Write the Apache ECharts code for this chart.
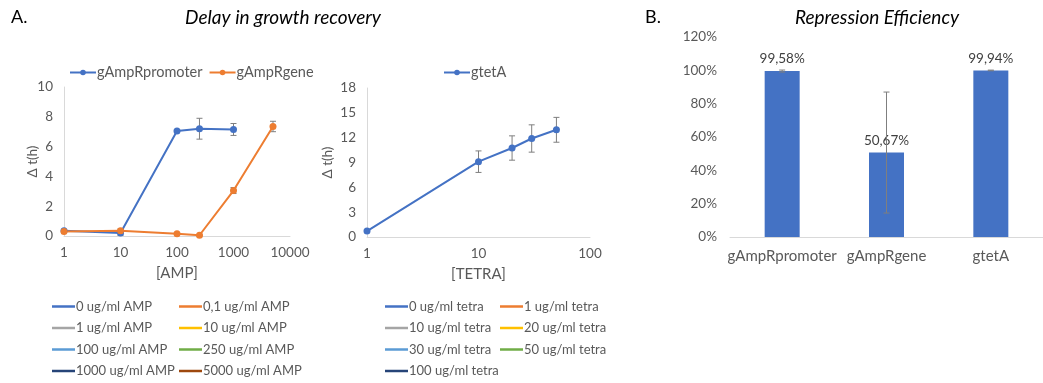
<!DOCTYPE html>
<html>
<head>
<meta charset="utf-8">
<script src="https://cdn.jsdelivr.net/npm/echarts@6/dist/echarts.min.js"></script>
<style>
  html, body { margin: 0; padding: 0; background: #fff; }
  #myChart { width: 1043px; height: 383px; }
</style>
</head>
<body>
<div id="myChart"></div>
<script>
// data
var ampDose = [1, 10, 100, 250, 1000, 5000];
var promoterDelay = [0.35, 0.2, 7.05, 7.2, 7.15, null];
var promoterErr = [0.05, 0.15, 0.1, 0.7, 0.4, null];
var geneDelay = [0.3, 0.35, 0.15, 0.05, 3.05, 7.35];
var geneErr = [0.05, 0.12, 0.05, 0.04, 0.2, 0.35];

var tetDose = [1, 10, 20, 30, 50];
var tetDelay = [0.72, 9.1, 10.75, 11.9, 12.95];
var tetErr = [0.1, 1.3, 1.47, 1.65, 1.5];

var guides = ['gAmpRpromoter', 'gAmpRgene', 'gtetA'];
var efficiency = [99.58, 50.67, 99.94];
var efficiencyErr = [0.6, 36.3, 0.2];
var efficiencyText = ['99,58%', '50,67%', '99,94%'];

var ampLegendA = ['0 ug/ml AMP', '1 ug/ml AMP', '100 ug/ml AMP', '1000 ug/ml AMP'];
var ampLegendB = ['0,1 ug/ml AMP', '10 ug/ml AMP', '250 ug/ml AMP', '5000 ug/ml AMP'];
var tetLegendA = ['0 ug/ml tetra', '10 ug/ml tetra', '30 ug/ml tetra', '100 ug/ml tetra'];
var tetLegendB = ['1 ug/ml tetra', '20 ug/ml tetra', '50 ug/ml tetra'];
var ampColors = ['#4472C4', '#ED7D31', '#A5A5A5', '#FFC000', '#5B9BD5', '#70AD47', '#264478', '#9E480E'];
var tetColors = ['#4472C4', '#ED7D31', '#A5A5A5', '#FFC000', '#5B9BD5', '#70AD47', '#264478'];

var FONT = 'Lato';
var GREY = '#595959';
var myChart = echarts.init(document.getElementById('myChart'));

function pairs(xs, ys) {
	var out = [];
	for (var i = 0; i < xs.length; i++) {
		if (ys[i] != null) out.push([xs[i], ys[i]]);
	}
	return out;
}
function errData(xs, ys, es) {
	var out = [];
	for (var i = 0; i < xs.length; i++) {
		if (ys[i] != null) out.push([xs[i], ys[i] - es[i], ys[i] + es[i]]);
	}
	return out;
}
// error bar with caps
function renderErr(params, api) {
	var lo = api.coord([api.value(0), api.value(1)]);
	var hi = api.coord([api.value(0), api.value(2)]);
	var st = { stroke: '#7f7f7f', lineWidth: 1 };
	return { type: 'group', children: [
		{ type: 'line', shape: { x1: lo[0], y1: lo[1], x2: hi[0], y2: hi[1] }, style: st },
		{ type: 'line', shape: { x1: lo[0] - 3, y1: lo[1], x2: lo[0] + 3, y2: lo[1] }, style: st },
		{ type: 'line', shape: { x1: hi[0] - 3, y1: hi[1], x2: hi[0] + 3, y2: hi[1] }, style: st }
	] };
}
function errSeries(data, xi, yi, z) {
	return { type: 'custom', xAxisIndex: xi, yAxisIndex: yi, data: data, z: z, renderItem: renderErr };
}
function lineSeries(name, data, color, xi, yi) {
	return {
		name: name, type: 'line', xAxisIndex: xi, yAxisIndex: yi, data: data, z: 3,
		symbol: 'circle', symbolSize: 7,
		lineStyle: { color: color, width: 2 }, itemStyle: { color: color }
	};
}

var series = [
	errSeries(errData(ampDose, promoterDelay, promoterErr), 0, 0, 1),
	errSeries(errData(ampDose, geneDelay, geneErr), 0, 0, 1),
	lineSeries('gAmpRpromoter', pairs(ampDose, promoterDelay), '#4472C4', 0, 0),
	lineSeries('gAmpRgene', pairs(ampDose, geneDelay), '#ED7D31', 0, 0),
	errSeries(errData(tetDose, tetDelay, tetErr), 1, 1, 1),
	lineSeries('gtetA', pairs(tetDose, tetDelay), '#4472C4', 1, 1),
	{
		type: 'bar', xAxisIndex: 2, yAxisIndex: 2, data: efficiency, barWidth: 35,
		itemStyle: { color: '#4472C4' },
		label: {
			show: true, position: 'top', distance: 5, color: '#404040', fontFamily: FONT, fontSize: 13.5,
			formatter: function(p) { return efficiencyText[p.dataIndex]; }
		}
	},
	errSeries(efficiency.map(function(v, i) { return [i, v - efficiencyErr[i], v + efficiencyErr[i]]; }), 2, 2, 5)
];
// empty series, only shown in the legends under the charts
var ampNames = ampLegendA.concat(ampLegendB);
var ampOrder = [0, 2, 4, 6, 1, 3, 5, 7];
ampNames.forEach(function(n, i) {
	series.push({ name: n, type: 'line', xAxisIndex: 0, yAxisIndex: 0, data: [], color: ampColors[ampOrder[i]] });
});
var tetNames = tetLegendA.concat(tetLegendB);
var tetOrder = [0, 2, 4, 6, 1, 3, 5];
tetNames.forEach(function(n, i) {
	series.push({ name: n, type: 'line', xAxisIndex: 1, yAxisIndex: 1, data: [], color: tetColors[tetOrder[i]] });
});

var axisLabel = { color: GREY, fontFamily: FONT, fontSize: 13.5 };
var axisLine = { show: true, lineStyle: { color: '#d9d9d9' } };
function plainNum(v) { return String(v); }
function smallLegend(names, left) {
	return {
		data: names, orient: 'vertical', left: left, top: 300, height: 83, padding: 0, itemGap: 8.5,
		icon: 'rect', itemWidth: 23, itemHeight: 2.5,
		textStyle: { color: GREY, fontFamily: FONT, fontSize: 13, padding: [0, 0, 0, -4] },
		selectedMode: false
	};
}
var topLegendText = { color: GREY, fontFamily: FONT, fontSize: 14.5, padding: [0, 0, 0, -4] };

myChart.setOption({
	animation: false,
	graphic: [
		{ type: 'text', left: 11, top: 8, style: { text: 'A.', font: '18px ' + FONT, fill: '#000' } },
		{ type: 'text', left: 645, top: 8, style: { text: 'B.', font: '18px ' + FONT, fill: '#000' } },
		{ type: 'text', x: 283, y: 18, style: { text: 'Delay in growth recovery', font: 'italic 19px ' + FONT, fill: '#000', align: 'center', verticalAlign: 'middle' } },
		{ type: 'text', x: 877, y: 18, style: { text: 'Repression Efficiency', font: 'italic 19px ' + FONT, fill: '#000', align: 'center', verticalAlign: 'middle' } }
	],
	legend: [
		{ data: ['gAmpRpromoter', 'gAmpRgene'], left: 64, top: 60, itemGap: 6, itemWidth: 26, itemHeight: 7, textStyle: topLegendText, selectedMode: false },
		{ data: ['gtetA'], left: 438, top: 60, itemWidth: 26, itemHeight: 7, textStyle: topLegendText, selectedMode: false },
		smallLegend(ampLegendA, 52),
		smallLegend(ampLegendB, 179),
		smallLegend(tetLegendA, 385),
		smallLegend(tetLegendB, 500)
	],
	grid: [
		{ left: 64, top: 87, width: 226, height: 149 },
		{ left: 367, top: 88, width: 223, height: 149 },
		{ left: 730, top: 37, width: 330, height: 200 }
	],
	xAxis: [
		{ type: 'log', gridIndex: 0, min: 1, max: 10000, logBase: 10, axisLine: axisLine, axisTick: { show: false }, splitLine: { show: false }, axisLabel: Object.assign({ margin: 10, formatter: plainNum }, axisLabel), name: '[AMP]', nameLocation: 'middle', nameGap: 30, nameTextStyle: { color: GREY, fontFamily: FONT, fontSize: 15 } },
		{ type: 'log', gridIndex: 1, min: 1, max: 100, logBase: 10, axisLine: axisLine, axisTick: { show: false }, splitLine: { show: false }, axisLabel: Object.assign({ margin: 10, formatter: plainNum }, axisLabel), name: '[TETRA]', nameLocation: 'middle', nameGap: 30, nameTextStyle: { color: GREY, fontFamily: FONT, fontSize: 15 } },
		{ type: 'category', gridIndex: 2, data: guides, axisLine: axisLine, axisTick: { show: false }, axisLabel: { color: GREY, fontFamily: FONT, fontSize: 15, margin: 12, interval: 0 } }
	],
	yAxis: [
		{ type: 'value', gridIndex: 0, min: 0, max: 10, interval: 2, axisLine: axisLine, axisTick: { show: false }, splitLine: { show: false }, axisLabel: Object.assign({ margin: 11 }, axisLabel), name: 'Δ t(h)', nameLocation: 'middle', nameGap: 24, nameMoveOverlap: false, nameTextStyle: { color: GREY, fontFamily: FONT, fontSize: 13.5 } },
		{ type: 'value', gridIndex: 1, min: 0, max: 18, interval: 3, axisLine: axisLine, axisTick: { show: false }, splitLine: { show: false }, axisLabel: Object.assign({ margin: 11 }, axisLabel), name: 'Δ t(h)', nameLocation: 'middle', nameGap: 32, nameMoveOverlap: false, nameTextStyle: { color: GREY, fontFamily: FONT, fontSize: 13.5 } },
		{ type: 'value', gridIndex: 2, min: 0, max: 120, interval: 20, axisLine: { show: false }, axisTick: { show: false }, splitLine: { show: false }, axisLabel: Object.assign({ margin: 13, formatter: '{value}%' }, axisLabel) }
	],
	series: series
});
</script>
</body>
</html>
